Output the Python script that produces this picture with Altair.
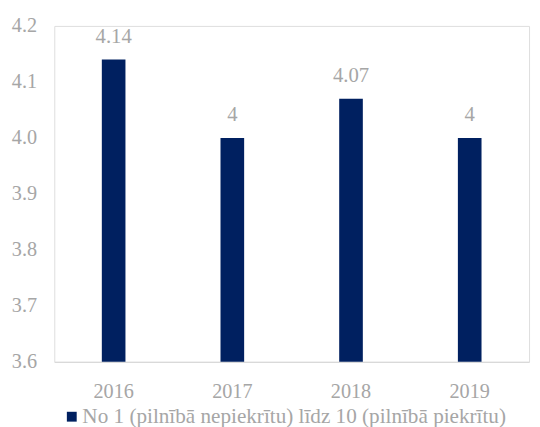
import altair as alt
import pandas as pd

years = ["2016", "2017", "2018", "2019"]
values = [4.14, 4.0, 4.07, 4.0]
labels = ["4.14", "4", "4.07", "4"]
series = "No 1 (pilnībā nepiekrītu) līdz 10 (pilnībā piekrītu)"

df = pd.DataFrame({"year": years, "value": values, "label": labels, "series": [series] * 4})

FONT = "Liberation Serif"
GRAY = "#a6a6a6"
NAVY = "#002060"
FS = 20.5

x = alt.X("year:N", title=None, sort=years,
          scale=alt.Scale(paddingInner=0.8, paddingOuter=0.4),
          axis=alt.Axis(labelAngle=0, ticks=False, domainColor="#d9d9d9", domainWidth=1.3,
                        labelPadding=20, labelFontSize=FS, labelColor=GRAY, labelFont=FONT))
y = alt.Y("value:Q", title=None,
          scale=alt.Scale(domain=[3.6, 4.2], zero=False, nice=False),
          axis=alt.Axis(values=[3.6, 3.7, 3.8, 3.9, 4.0, 4.1, 4.2], format=".1f", grid=False,
                        domain=False, ticks=False, labelPadding=18, labelFontSize=FS,
                        labelColor=GRAY, labelFont=FONT))

bars = alt.Chart(df).mark_bar(size=24).encode(
    x=x, y=y, y2=alt.datum(3.6),
    color=alt.Color("series:N", scale=alt.Scale(range=[NAVY]), title=None,
                    legend=alt.Legend(orient="none", legendX=7, legendY=386, symbolType="square",
                                      symbolSize=100, labelFontSize=21.5, labelColor=GRAY,
                                      labelFont=FONT, symbolStrokeWidth=0, labelOffset=0,
                                      labelLimit=0, padding=0)),
)

text = alt.Chart(df).mark_text(dy=-17, fontSize=21, font=FONT, color=GRAY, baseline="alphabetic").encode(
    x=alt.X("year:N", sort=years), y="value:Q", text="label:N"
)

chart = (bars + text).properties(
    width=482, height=341,
    autosize=alt.AutoSizeParams(type="none"),
    padding={"left": 47, "top": 15, "right": 3, "bottom": 63},
).configure_view(stroke=None).configure(font=FONT)

chart.save("out.html", embed_options={"renderer": "svg", "actions": False})
